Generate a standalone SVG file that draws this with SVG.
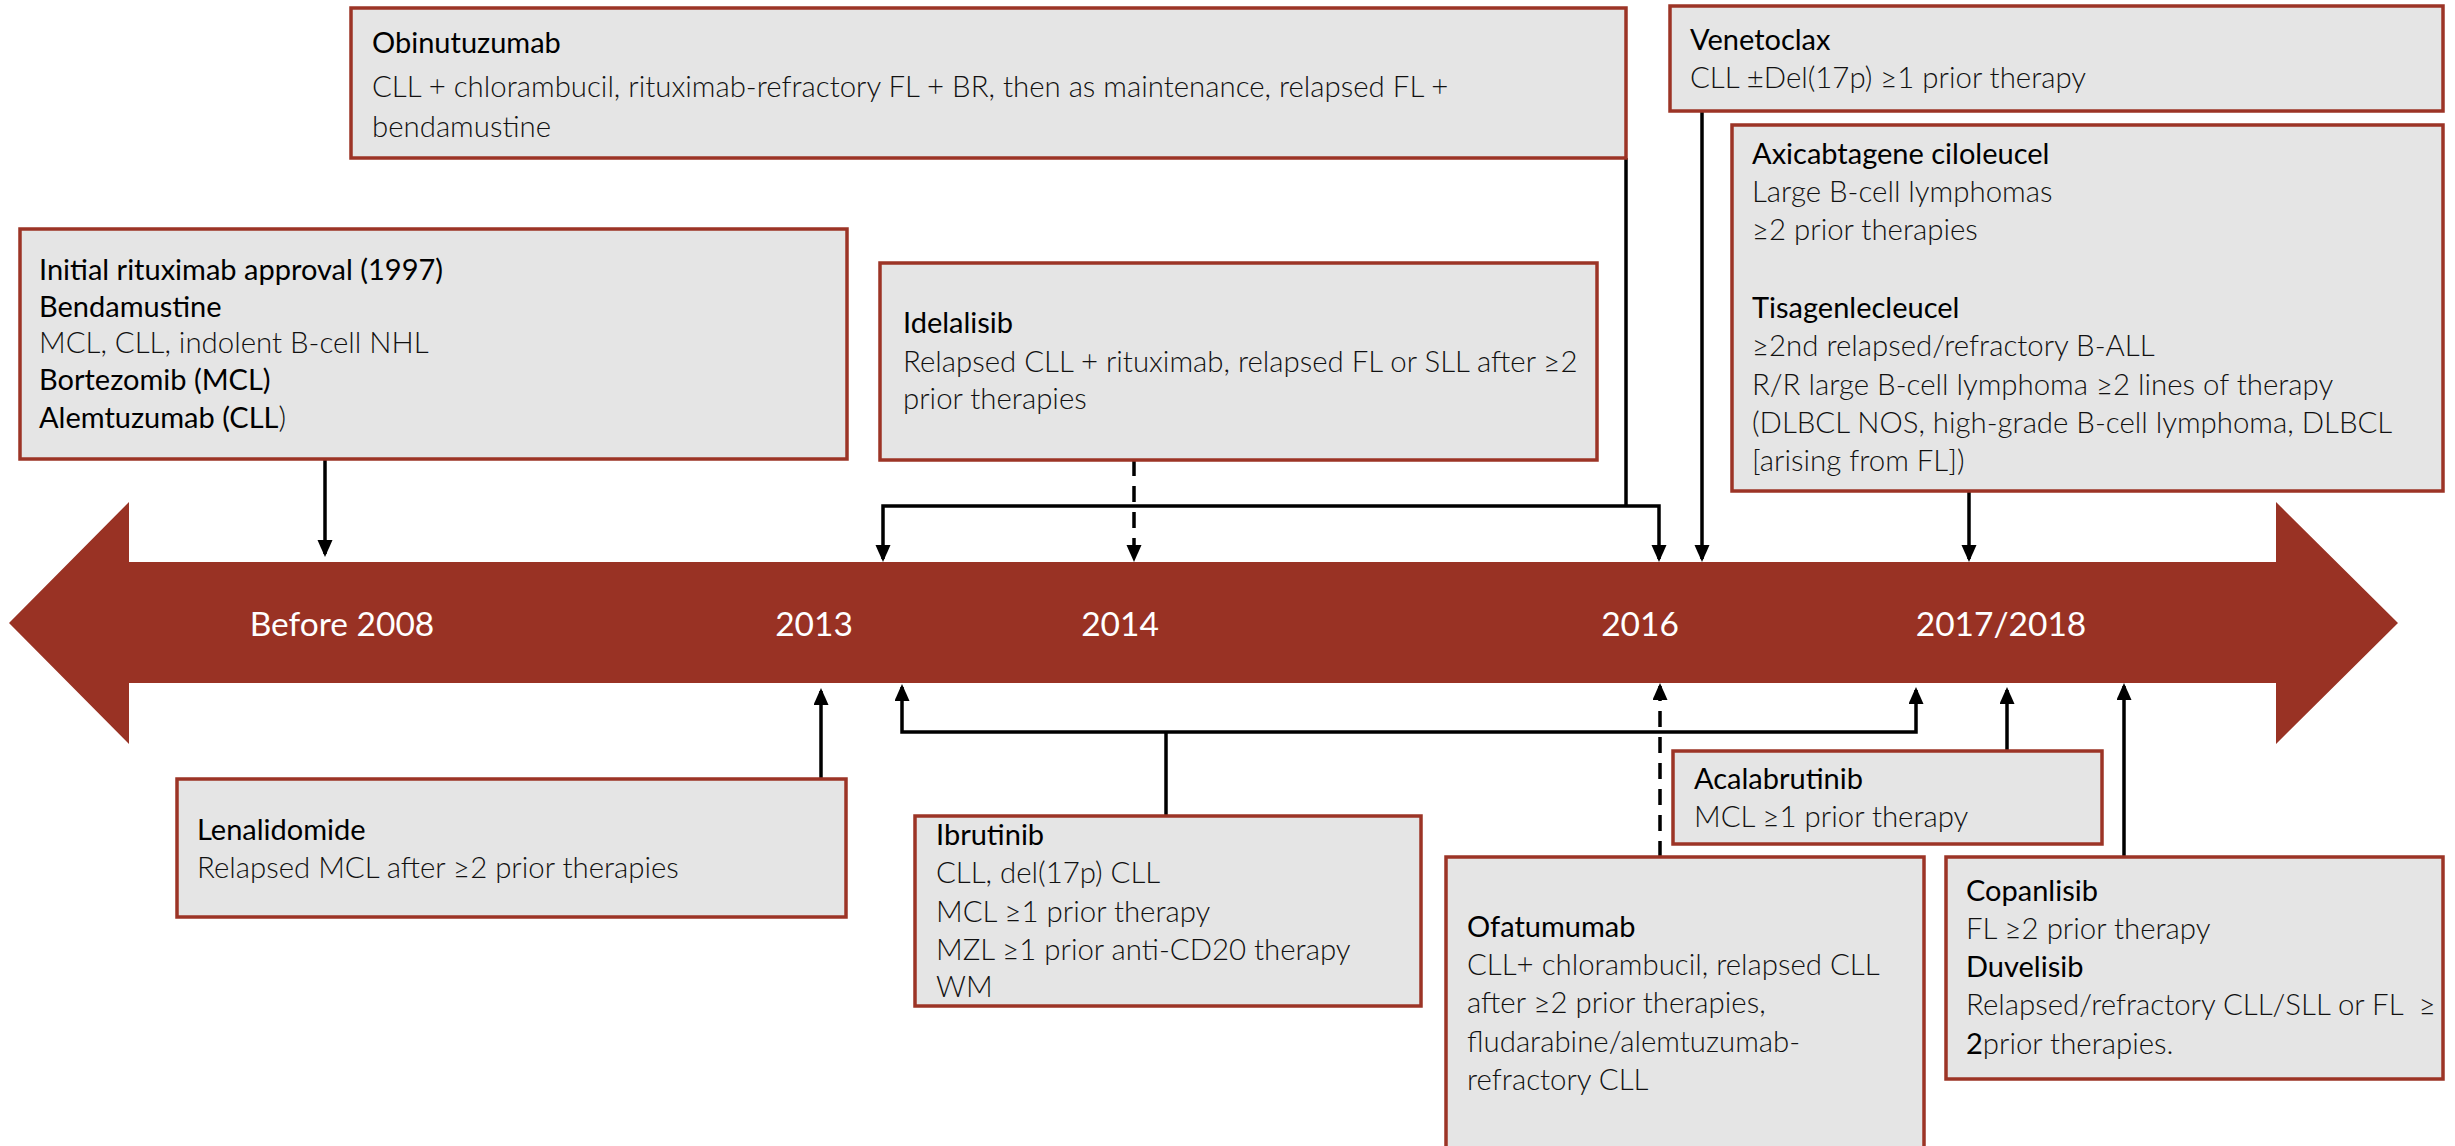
<svg xmlns="http://www.w3.org/2000/svg" width="2455" height="1146" viewBox="0 0 2455 1146">
<style>
.box{fill:#e5e5e5;stroke:#9c3426;stroke-width:3.5}
.h{font-family:Lato,"Liberation Sans",sans-serif;font-size:29px;font-weight:400;fill:#000}
.b{font-family:Lato,"Liberation Sans",sans-serif;font-size:29.4px;font-weight:300;fill:#111}
.yr{font-family:Lato,"Liberation Sans",sans-serif;font-size:33.5px;font-weight:400;fill:#fff;text-anchor:middle}
.c{fill:none;stroke:#000;stroke-width:3.5}
.d{stroke-dasharray:16 10}
</style>
<defs>
<marker id="ah" markerUnits="userSpaceOnUse" markerWidth="18" markerHeight="16" refX="14" refY="7.5" orient="auto" viewBox="0 0 18 16">
<path d="M0,0 L17,7.5 L0,15 z" fill="#000"/>
</marker>
</defs>
<rect width="2455" height="1146" fill="#fff"/>
<g id="timeline">
<polygon points="9,623 129,502 129,562 2276,562 2276,502 2398,623 2276,744 2276,683 129,683 129,744" fill="#993224"/>
<text class="yr" x="342" y="636">Before 2008</text>
<text class="yr" x="814" y="636">2013</text>
<text class="yr" x="1120" y="636">2014</text>
<text class="yr" x="1640" y="636">2016</text>
<text class="yr" x="2001" y="636">2017/2018</text>
</g>
<g id="connectors">
<path class="c" d="M325,459 V554" marker-end="url(#ah)"/>
<path class="c" d="M1626,158 V506"/>
<path class="c" d="M1626,506 H883 V559" marker-end="url(#ah)"/>
<path class="c" d="M1626,506 H1659 V559" marker-end="url(#ah)"/>
<path class="c d" d="M1134,460 V559" marker-end="url(#ah)"/>
<path class="c" d="M1702,111 V559" marker-end="url(#ah)"/>
<path class="c" d="M1969,491 V559" marker-end="url(#ah)"/>
<path class="c" d="M821,779 V691" marker-end="url(#ah)"/>
<path class="c" d="M1166,816 V732"/>
<path class="c" d="M1166,732 H902 V687" marker-end="url(#ah)"/>
<path class="c" d="M1166,732 H1916 V690" marker-end="url(#ah)"/>
<path class="c d" d="M1660,857 V686" marker-end="url(#ah)"/>
<path class="c" d="M2007,751 V690" marker-end="url(#ah)"/>
<path class="c" d="M2124,857 V686" marker-end="url(#ah)"/>
</g>
<g id="before2008">
<rect class="box" x="20" y="229" width="827" height="230"/>
<text class="h" x="39" y="280">Initial rituximab approval (1997)</text>
<text class="h" x="39" y="317">Bendamustine</text>
<text class="b" x="39" y="353">MCL, CLL, indolent B-cell NHL</text>
<text class="h" x="39" y="390">Bortezomib (MCL)</text>
<text class="h" x="39" y="428">Alemtuzumab (CLL<tspan class="b">)</tspan></text>
</g>
<g id="obinutuzumab">
<rect class="box" x="351" y="8" width="1275" height="150"/>
<text class="h" x="372" y="53">Obinutuzumab</text>
<text class="b" x="372" y="97">CLL + chlorambucil, rituximab-refractory FL + BR, then as maintenance, relapsed FL +</text>
<text class="b" x="372" y="137">bendamustine</text>
</g>
<g id="venetoclax">
<rect class="box" x="1670" y="6" width="773" height="105"/>
<text class="h" x="1690" y="50">Venetoclax</text>
<text class="b" x="1690" y="88">CLL ±Del(17p) ≥1 prior therapy</text>
</g>
<g id="car-t">
<rect class="box" x="1732" y="125" width="711" height="366"/>
<text class="h" x="1752" y="164">Axicabtagene ciloleucel</text>
<text class="b" x="1752" y="202">Large B-cell lymphomas</text>
<text class="b" x="1752" y="240">≥2 prior therapies</text>
<text class="h" x="1752" y="318">Tisagenlecleucel</text>
<text class="b" x="1752" y="356">≥2nd relapsed/refractory B-ALL</text>
<text class="b" x="1752" y="395">R/R large B-cell lymphoma ≥2 lines of therapy</text>
<text class="b" x="1752" y="433">(DLBCL NOS, high-grade B-cell lymphoma, DLBCL</text>
<text class="b" x="1752" y="471">[arising from FL])</text>
</g>
<g id="idelalisib">
<rect class="box" x="880" y="263" width="717" height="197"/>
<text class="h" x="903" y="333">Idelalisib</text>
<text class="b" x="903" y="372">Relapsed CLL + rituximab, relapsed FL or SLL after ≥2</text>
<text class="b" x="903" y="409">prior therapies</text>
</g>
<g id="lenalidomide">
<rect class="box" x="177" y="779" width="669" height="138"/>
<text class="h" x="197" y="840">Lenalidomide</text>
<text class="b" x="197" y="878">Relapsed MCL after ≥2 prior therapies</text>
</g>
<g id="ibrutinib">
<rect class="box" x="915" y="816" width="506" height="190"/>
<text class="h" x="936" y="845">Ibrutinib</text>
<text class="b" x="936" y="883">CLL, del(17p) CLL</text>
<text class="b" x="936" y="922">MCL ≥1 prior therapy</text>
<text class="b" x="936" y="960">MZL ≥1 prior anti-CD20 therapy</text>
<text class="b" x="936" y="997">WM</text>
</g>
<g id="ofatumumab">
<rect class="box" x="1446" y="857" width="478" height="310"/>
<text class="h" x="1467" y="937">Ofatumumab</text>
<text class="b" x="1467" y="975">CLL+ chlorambucil, relapsed CLL</text>
<text class="b" x="1467" y="1013">after ≥2 prior therapies,</text>
<text class="b" x="1467" y="1052">fludarabine/alemtuzumab-</text>
<text class="b" x="1467" y="1090">refractory CLL</text>
</g>
<g id="acalabrutinib">
<rect class="box" x="1673" y="751" width="429" height="93"/>
<text class="h" x="1694" y="789">Acalabrutinib</text>
<text class="b" x="1694" y="827">MCL ≥1 prior therapy</text>
</g>
<g id="copanlisib-duvelisib">
<rect class="box" x="1946" y="857" width="497" height="222"/>
<text class="h" x="1966" y="901">Copanlisib</text>
<text class="b" x="1966" y="939">FL ≥2 prior therapy</text>
<text class="h" x="1966" y="977">Duvelisib</text>
<text class="b" x="1966" y="1015" xml:space="preserve">Relapsed/refractory CLL/SLL or FL  ≥</text>
<text class="b" x="1966" y="1054"><tspan class="h">2</tspan>prior therapies.</text>
</g>
</svg>
